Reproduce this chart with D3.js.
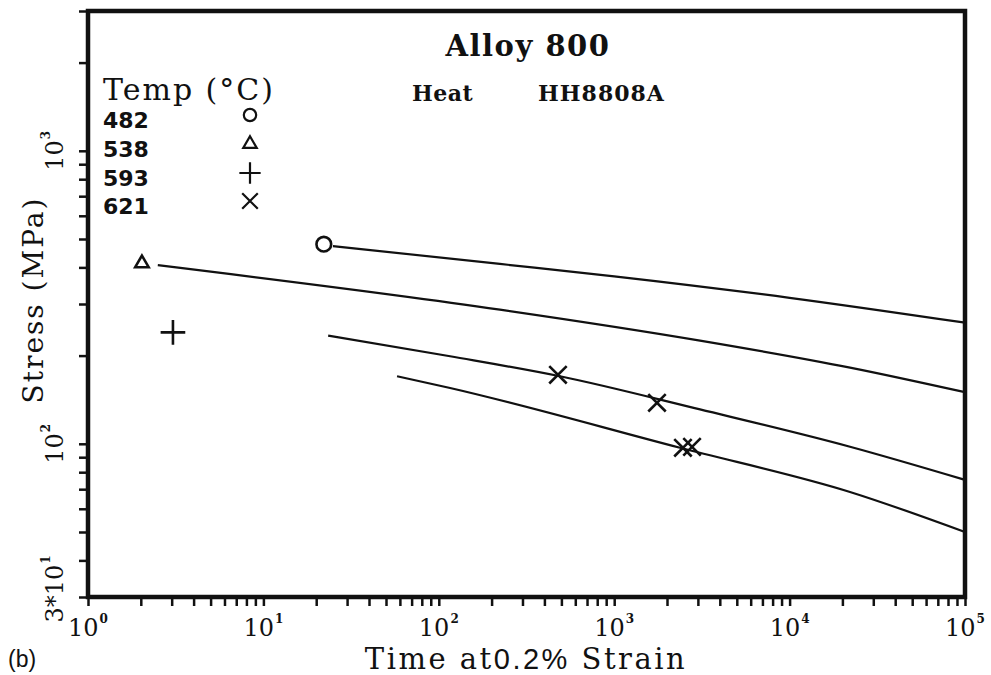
<!DOCTYPE html>
<html>
<head>
<meta charset="utf-8">
<script src="https://cdn.jsdelivr.net/npm/d3@7"></script>
<style>
  body { margin: 0; background: #fff; }
  text { fill: #111; }
</style>
</head>
<body>
<svg id="chart" width="991" height="675"></svg>
<script>
// Temperatures in the legend
const temps = ['482', '538', '593', '621'];

// Fitted curves: time (h) and stress (MPa)
const curve482Time = [24.9, 223, 1000, 10000, 100000];
const curve482Stress = [473, 411, 373, 315, 259];
const curve538Time = [2.5, 223, 3085, 22100, 100000];
const curve538Stress = [407, 287, 225, 182, 150];
const curve593Time = [23.4, 116, 491, 3085, 22100, 100000];
const curve593Stress = [234, 199, 170, 131, 97.7, 75.3];
const curve621Time = [57.8, 116, 2371, 22100, 100000];
const curve621Stress = [170, 155, 96.9, 68.5, 50];

// Test points
const pts482Time = [22.1];
const pts482Stress = [480];
const pts538Time = [2.03];
const pts538Stress = [413];
const pts593Time = [3.05];
const pts593Stress = [240];
const pts621Time = [478, 1754, 2466, 2778];
const pts621Stress = [172, 138, 96.9, 97.6];

// Axis ticks
const xMajor = [1, 10, 100, 1000, 10000, 100000];
const yLabels = [[30, '3*10', '1'], [100, '10', '2'], [1000, '10', '3']];

const svg = d3.select('#chart');

const plotLeft = 88, plotRight = 965, plotTop = 11, plotBottom = 597;

const xScale = d3.scaleLog().domain([1, 1e5]).range([plotLeft, plotRight]);
const yScale = d3.scaleLog().domain([30, 3000]).range([plotBottom, plotTop]);

// minor ticks for every decade
const xTicks = [];
xMajor.slice(0, -1).forEach(d => { for (let k = 1; k < 10; k++) xTicks.push(d * k); });
xTicks.push(1e5);
const yTicks = [30, 40, 50, 60, 70, 80, 90, 100, 200, 300, 400, 500, 600, 700, 800, 900, 1000, 2000, 3000];

const serif = 'DejaVu Serif';

// x axis
const xAxis = svg.append('g')
  .attr('transform', `translate(0, ${plotBottom})`)
  .call(d3.axisBottom(xScale).tickValues(xTicks).tickFormat('').tickSize(9).tickSizeOuter(0));
xAxis.select('.domain').remove();
xAxis.selectAll('line').attr('stroke', '#111').attr('stroke-width', 2.5);

// y axis
const yAxis = svg.append('g')
  .attr('transform', `translate(${plotLeft}, 0)`)
  .call(d3.axisLeft(yScale).tickValues(yTicks).tickFormat('').tickSize(9).tickSizeOuter(0));
yAxis.select('.domain').remove();
yAxis.selectAll('line').attr('stroke', '#111').attr('stroke-width', 2.5);

// frame
svg.append('rect')
  .attr('x', plotLeft).attr('y', plotTop)
  .attr('width', plotRight - plotLeft).attr('height', plotBottom - plotTop)
  .attr('fill', 'none').attr('stroke', '#111').attr('stroke-width', 4.5);

// x tick labels with exponent
xMajor.forEach((d, i) => {
  const t = svg.append('text')
    .attr('x', xScale(d)).attr('y', 636)
    .attr('text-anchor', 'middle')
    .attr('font-family', serif).attr('font-size', 24);
  t.append('tspan').text('10');
  t.append('tspan').attr('dx', 1).attr('dy', -13).attr('font-size', 12).attr('font-weight', 'bold').text(String(i));
});

// y tick labels, rotated
yLabels.forEach(([v, base, exp]) => {
  const t = svg.append('text')
    .attr('transform', `translate(63, ${yScale(v) - (v === 30 ? 8 : 0)}) rotate(-90)`)
    .attr('text-anchor', 'middle')
    .attr('font-family', serif).attr('font-size', 24);
  t.append('tspan').text(base);
  t.append('tspan').attr('dx', 1).attr('dy', -13).attr('font-size', 12).attr('font-weight', 'bold').text(exp);
});

// axis titles
svg.append('text')
  .attr('transform', 'translate(43, 300) rotate(-90)')
  .attr('text-anchor', 'middle')
  .attr('font-family', serif).attr('font-size', 28).attr('letter-spacing', 2)
  .text('Stress (MPa)');

const xt = svg.append('text')
  .attr('x', 526).attr('y', 669)
  .attr('text-anchor', 'middle')
  .attr('font-family', serif).attr('font-size', 29).attr('letter-spacing', 2.5);
xt.append('tspan').text('Time  at');
xt.append('tspan').attr('font-family', 'Liberation Sans').text('0.2%');
xt.append('tspan').text(' Strain');

svg.append('text')
  .attr('x', 8).attr('y', 667)
  .attr('font-family', 'Liberation Sans').attr('font-size', 23)
  .text('(b)');

// title block
svg.append('text')
  .attr('x', 528).attr('y', 56)
  .attr('text-anchor', 'middle')
  .attr('font-family', serif).attr('font-size', 29).attr('font-weight', 'bold').attr('letter-spacing', 1.5)
  .text('Alloy 800');
svg.append('text')
  .attr('x', 412).attr('y', 101)
  .attr('font-family', serif).attr('font-size', 22).attr('font-weight', 'bold').attr('letter-spacing', 0.5)
  .text('Heat');
svg.append('text')
  .attr('x', 538).attr('y', 101)
  .attr('font-family', serif).attr('font-size', 22).attr('font-weight', 'bold').attr('letter-spacing', 1)
  .text('HH8808A');

// legend
svg.append('text')
  .attr('x', 103).attr('y', 100)
  .attr('font-family', serif).attr('font-size', 30).attr('letter-spacing', 2)
  .text('Temp (°C)');

const symbolTypes = [d3.symbolCircle, d3.symbolTriangle2, d3.symbolPlus, d3.symbolX];
const legendSizes = [120, 130, 150, 160];
const legendY = [128, 157, 186, 214];

temps.forEach((t, i) => {
  svg.append('text')
    .attr('x', 103).attr('y', legendY[i])
    .attr('font-family', 'DejaVu Sans').attr('font-size', 22).attr('font-weight', 'bold')
    .text(t);
  svg.append('path')
    .attr('transform', `translate(250, ${legendY[i] - 13})`)
    .attr('d', d3.symbol(symbolTypes[i], legendSizes[i])())
    .attr('fill', 'none').attr('stroke', '#111').attr('stroke-width', 2.2);
});

// curves
const line = d3.line()
  .x(d => xScale(d[0]))
  .y(d => yScale(d[1]))
  .curve(d3.curveMonotoneX);

const curves = [
  [curve482Time, curve482Stress],
  [curve538Time, curve538Stress],
  [curve593Time, curve593Stress],
  [curve621Time, curve621Stress]
];

svg.append('g').selectAll('path')
  .data(curves.map(([t, s]) => t.map((v, i) => [v, s[i]])))
  .join('path')
  .attr('d', line)
  .attr('fill', 'none')
  .attr('stroke', '#111')
  .attr('stroke-width', 2.2);

// points
const points = [
  [pts482Time, pts482Stress],
  [pts538Time, pts538Stress],
  [pts593Time, pts593Stress],
  [pts621Time, pts621Stress]
];
const pointSizes = [170, 130, 200, 200];

points.forEach(([t, s], i) => {
  svg.append('g').selectAll('path')
    .data(t.map((v, j) => [v, s[j]]))
    .join('path')
    .attr('transform', d => `translate(${xScale(d[0])}, ${yScale(d[1])})`)
    .attr('d', d3.symbol(symbolTypes[i], pointSizes[i])())
    .attr('fill', 'none')
    .attr('stroke', '#111')
    .attr('stroke-width', 2.6);
});
</script>
</body>
</html>
